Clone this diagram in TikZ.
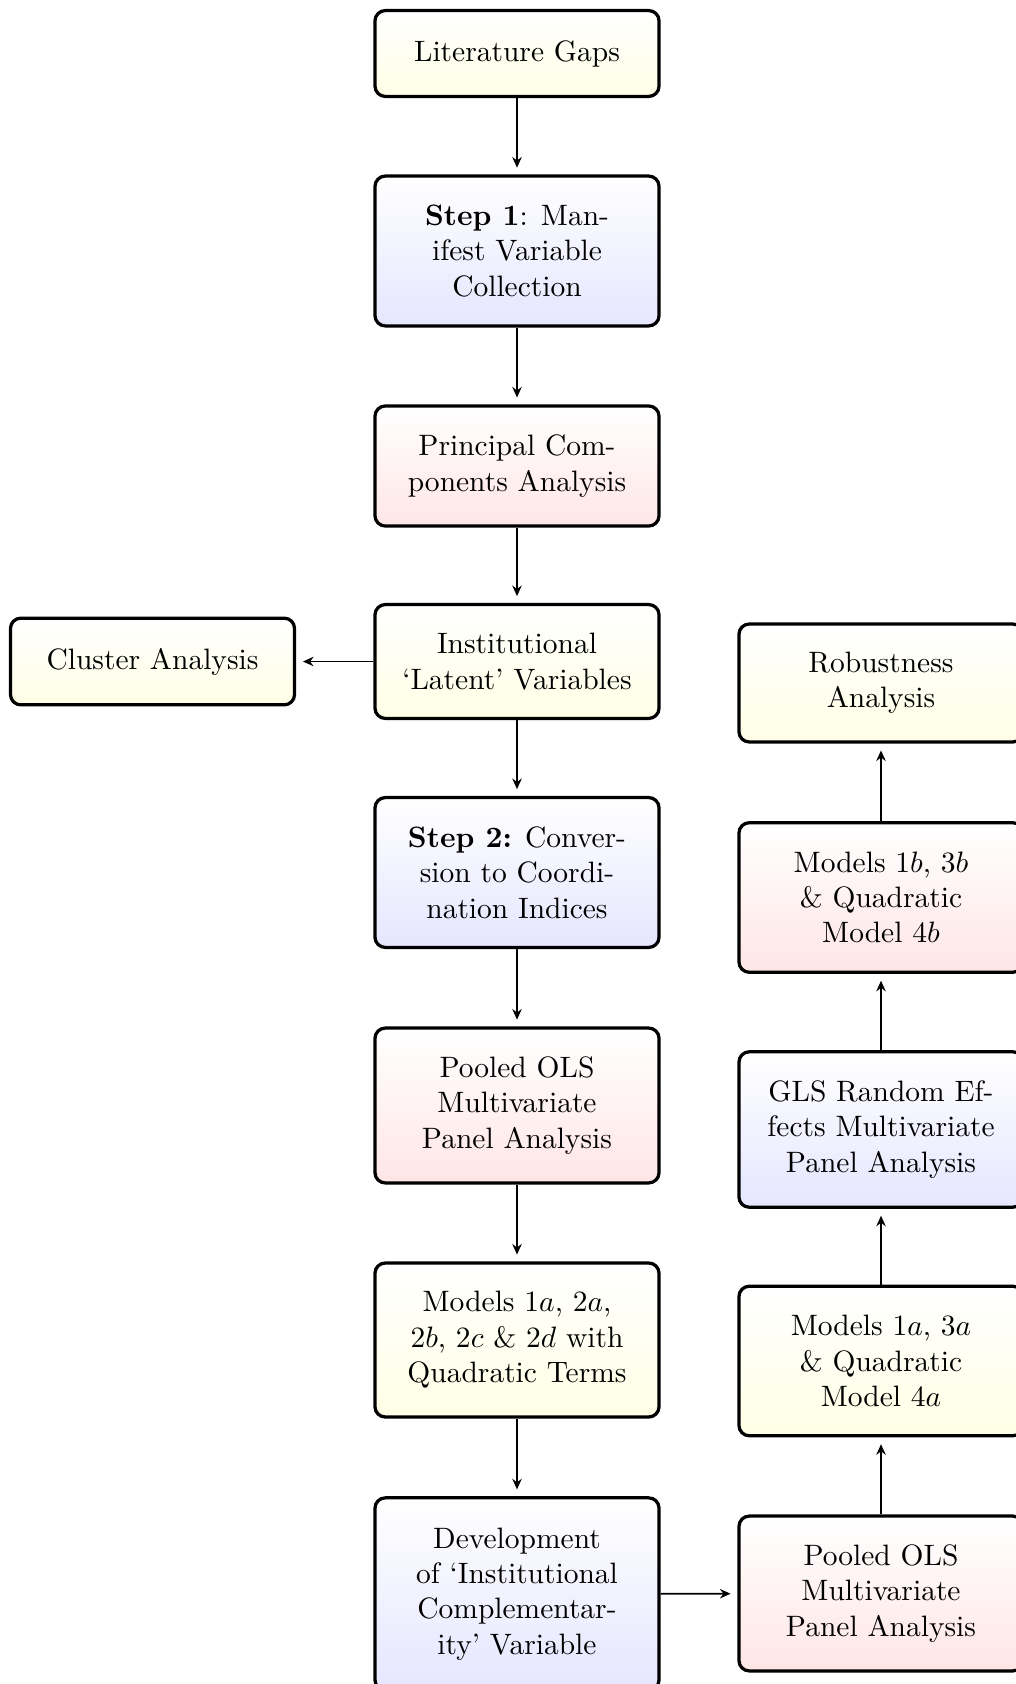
\documentclass[tikz,border=0pt]{standalone}
\usetikzlibrary{arrows.meta}

\tikzset{
  box/.style={draw, line width=1.1pt, rounded corners=3.5pt, align=center,
              minimum width=96.3pt, inner sep=2pt, top color=white},
  ybox/.style={box, bottom color=yellow!10},
  bbox/.style={box, bottom color=blue!10},
  rbox/.style={box, bottom color=red!10},
  link/.style={semithick, -{Stealth[length=3.6pt,width=3.2pt,inset=1.2pt]},
               shorten >=2.3pt},
}

\begin{document}
\begin{tikzpicture}[x=0.339pt, y=-0.339pt]
  \useasboundingbox (0,0) rectangle (1016,1684);

  % main column
  \node[ybox, minimum height=29.1pt] (lit)  at (517,53.5)  {Literature Gaps};
  \node[bbox, minimum height=50.8pt] (s1)   at (517,251)   {\textbf{Step 1}: Man-\\ifest Variable\\Collection};
  \node[rbox, minimum height=40.7pt] (pca)  at (517,466)   {Principal Com-\\ponents Analysis};
  \node[ybox, minimum height=38.6pt] (inst) at (517,661.5) {Institutional\\`Latent' Variables};
  \node[ybox, minimum height=29.4pt] (clus) at (152.5,661.5) {Cluster Analysis};
  \node[bbox, minimum height=50.8pt] (s2)   at (517,872.5) {\textbf{Step 2:} Conver-\\sion to Coordi-\\nation Indices};
  \node[rbox, minimum height=52.5pt] (pool) at (517,1105.5) {Pooled OLS\\Multivariate\\Panel Analysis};
  \node[ybox, minimum height=52.2pt] (mods) at (517,1340)  {Models 1$a$, 2$a$,\\2$b$, 2$c$ \& 2$d$ with\\Quadratic Terms};
  \node[bbox, minimum height=65.2pt] (dev)  at (517,1594)  {Development\\of `Institutional\\Complementar-\\ity' Variable};

  % robustness column
  \node[rbox, minimum height=52.5pt] (poolR) at (881,1593.5) {Pooled OLS\\Multivariate\\Panel Analysis};
  \node[ybox, minimum height=50.7pt] (m1a)   at (881,1361)   {Models 1$a$, 3$a$\\\& Quadratic\\Model 4$a$};
  \node[bbox, minimum height=52.7pt] (gls)   at (881,1129.5) {GLS Random Ef-\\fects Multivariate\\Panel Analysis};
  \node[rbox, minimum height=50.7pt] (m1b)   at (881,897.5)  {Models 1$b$, 3$b$\\\& Quadratic\\Model 4$b$};
  \node[ybox, minimum height=40.0pt] (rob)   at (881,683)    {Robustness\\Analysis};

  % connectors
  \draw[link] (lit) -- (s1);
  \draw[link] (s1) -- (pca);
  \draw[link] (pca) -- (inst);
  \draw[link] (inst) -- (clus);
  \draw[link] (inst) -- (s2);
  \draw[link] (s2) -- (pool);
  \draw[link] (pool) -- (mods);
  \draw[link] (mods) -- (dev);
  \draw[link] (dev) -- (poolR);
  \draw[link] (poolR) -- (m1a);
  \draw[link] (m1a) -- (gls);
  \draw[link] (gls) -- (m1b);
  \draw[link] (m1b) -- (rob);
\end{tikzpicture}
\end{document}
